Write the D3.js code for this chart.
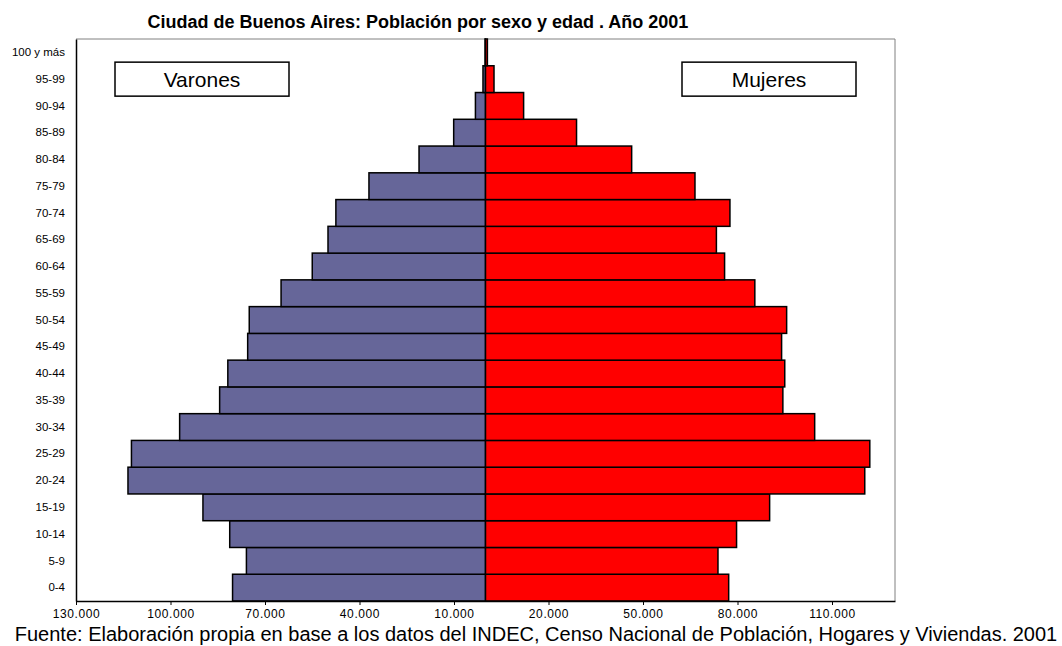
<!DOCTYPE html>
<meta charset="utf-8">
<style>

body { margin: 0; background: #fff; }

text { font-family: Arial, "Liberation Sans", sans-serif; fill: #000; }

.axis--x path, .axis--x line { stroke: #000; }
.axis--x text { font-size: 12px; letter-spacing: 0.6px; }
.axis--y text { font-size: 11.5px; }
.axis--y line { display: none; }

.bar { stroke: #000; stroke-width: 1.5px; }
.bar--m { fill: #666699; }
.bar--f { fill: #ff0000; }

.legend rect { fill: #fff; stroke: #000; stroke-width: 1.5px; }
.legend text { font-size: 21px; text-anchor: middle; }

</style>
<svg width="1062" height="646"></svg>
<script src="https://d3js.org/d3.v7.min.js"></script>
<script>

// age groups, bottom to top
var ages = ["0-4", "5-9", "10-14", "15-19", "20-24", "25-29", "30-34", "35-39", "40-44", "45-49",
            "50-54", "55-59", "60-64", "65-69", "70-74", "75-79", "80-84", "85-89", "90-94", "95-99", "100 y más"];

var varones = [80300, 75900, 81200, 89700, 113500, 112400, 97100, 84400, 81800, 75500,
               75000, 64900, 55000, 50000, 47500, 37000, 21100, 10100, 3200, 800, 150];

var mujeres = [77200, 73800, 79700, 90200, 120400, 122000, 104500, 94400, 95000, 94000,
               95600, 85500, 75900, 73300, 77600, 66500, 46400, 28900, 12100, 2700, 600];

var tickValues = [-130000, -100000, -70000, -40000, -10000, 20000, 50000, 80000, 110000];

var svg = d3.select("svg"),
    margin = {top: 39, right: 167, bottom: 45, left: 76},
    width = +svg.attr("width") - margin.left - margin.right,
    height = +svg.attr("height") - margin.top - margin.bottom,
    g = svg.append("g").attr("transform", "translate(" + margin.left + "," + margin.top + ")");

var x = d3.scaleLinear()
    .domain([-130000, 130000])
    .range([0, width]);

var y = d3.scaleBand()
    .domain(ages.slice().reverse())
    .range([0, height])
    .padding(0);

var fmt = function(d) { return d3.format(",")(Math.abs(d)).replace(/,/g, "."); };

var data = ages.map(function(a, i) { return {age: a, m: varones[i], f: mujeres[i]}; });

// plot area frame (top / right)
g.append("path")
    .attr("d", "M0,0H" + width + "V" + height)
    .attr("fill", "none")
    .attr("stroke", "#808080")
    .attr("stroke-width", 1);

g.selectAll(".bar--m")
  .data(data)
  .enter().append("rect")
    .attr("class", "bar bar--m")
    .attr("x", function(d) { return x(-d.m); })
    .attr("y", function(d) { return y(d.age); })
    .attr("width", function(d) { return x(0) - x(-d.m); })
    .attr("height", y.bandwidth());

g.selectAll(".bar--f")
  .data(data)
  .enter().append("rect")
    .attr("class", "bar bar--f")
    .attr("x", x(0))
    .attr("y", function(d) { return y(d.age); })
    .attr("width", function(d) { return x(d.f) - x(0); })
    .attr("height", y.bandwidth());

g.append("g")
    .attr("class", "axis axis--x")
    .attr("transform", "translate(0," + height + ")")
    .call(d3.axisBottom(x).tickValues(tickValues).tickFormat(fmt).tickSize(4).tickSizeOuter(0))
    .call(function(a) {
      a.selectAll("text").attr("y", 0).attr("dy", "1.42em");
      a.select(".domain").attr("stroke-width", 1.5);
    });

g.append("g")
    .attr("class", "axis axis--y")
    .call(d3.axisLeft(y).tickSize(0).tickPadding(11))
    .call(function(a) { a.select(".domain").attr("stroke", "#000").attr("stroke-width", 1.5); });

// legend boxes
var legend = [{label: "Varones", v: -90000}, {label: "Mujeres", v: 90000}];

var lg = g.selectAll(".legend")
  .data(legend)
  .enter().append("g")
    .attr("class", "legend")
    .attr("transform", function(d) { return "translate(" + x(d.v) + "," + (y("95-99") + y.bandwidth() / 2) + ")"; });

lg.append("rect")
    .attr("x", -87)
    .attr("y", -17)
    .attr("width", 174)
    .attr("height", 34);

lg.append("text")
    .attr("dy", "0.36em")
    .text(function(d) { return d.label; });

svg.append("text")
    .attr("x", 418)
    .attr("y", 28)
    .attr("text-anchor", "middle")
    .style("font-size", "18px")
    .style("font-weight", "bold")
    .text("Ciudad de Buenos Aires: Población por sexo y edad . Año 2001");

svg.append("text")
    .attr("x", 536)
    .attr("y", 641)
    .attr("text-anchor", "middle")
    .style("font-size", "20px")
    .text("Fuente: Elaboración propia en base a los datos del INDEC, Censo Nacional de Población, Hogares y Viviendas. 2001");

</script>
